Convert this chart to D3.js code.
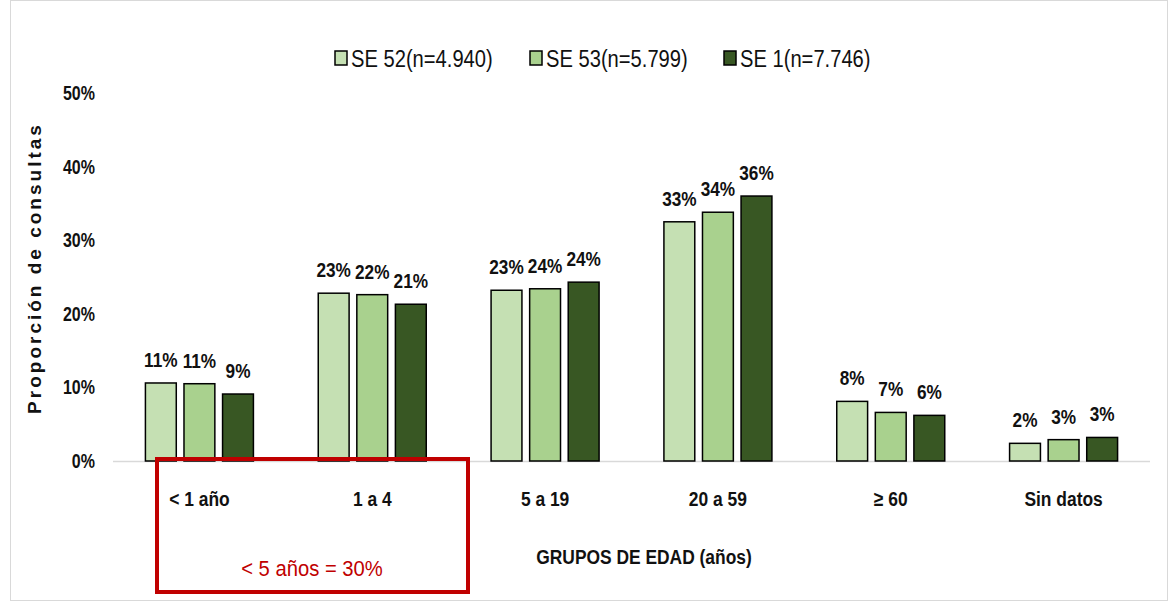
<!DOCTYPE html>
<html>
<head>
<meta charset="utf-8">
<script src="https://cdn.jsdelivr.net/npm/d3@7"></script>
<style>
  body { margin: 0; background: #fff; }
  svg text { font-family: "Liberation Sans", Arial, sans-serif; }
</style>
</head>
<body>
<div id="chart"></div>
<script>
// Data
var groups = ["< 1 año", "1 a 4", "5 a 19", "20 a 59", "\u2265 60", "Sin datos"];
var seriesNames = ["SE 52(n=4.940)", "SE 53(n=5.799)", "SE 1(n=7.746)"];
var se52 = [10.6, 22.8, 23.2, 32.5, 8.1, 2.4];
var se53 = [10.5, 22.6, 23.4, 33.8, 6.6, 2.9];
var se1  = [9.1, 21.3, 24.3, 36.0, 6.2, 3.2];
var valueLabels = [
  ["11%", "23%", "23%", "33%", "8%", "2%"],
  ["11%", "22%", "24%", "34%", "7%", "3%"],
  ["9%", "21%", "24%", "36%", "6%", "3%"]
];
var yTicks = [0, 10, 20, 30, 40, 50];
var colors = ["#c5e0b3", "#a9d18e", "#385723"];

var W = 1171, H = 613;
var svg = d3.select("#chart").append("svg")
  .attr("width", W).attr("height", H);

// no narrow font installed, so squeeze text horizontally
function narrow(sel, x, y, s) {
  return sel.attr("transform", "translate(" + x + "," + y + ") scale(" + s + ",1)");
}

// outer frame
svg.append("rect")
  .attr("x", 10.5).attr("y", 0.5)
  .attr("width", 1157).attr("height", 600)
  .attr("fill", "none").attr("stroke", "#d9d9d9");

var x0 = d3.scaleBand().domain(groups).range([113, 1150]);
var x1 = d3.scaleBand().domain([0, 1, 2]).range([0, 108]).paddingInner(0.2);
var y  = d3.scaleLinear().domain([0, 50]).range([461, 93]);

var series = [se52, se53, se1];

// y tick labels
yTicks.forEach(function(t) {
  narrow(svg.append("text"), 95, y(t) + 7, 0.8)
    .attr("text-anchor", "end")
    .attr("font-size", 20).attr("font-weight", "bold")
    .attr("fill", "#111")
    .text(t + "%");
});

// y title
svg.append("text")
  .attr("transform", "translate(41,268) rotate(-90)")
  .attr("text-anchor", "middle")
  .attr("font-size", 19).attr("font-weight", "bold")
  .attr("letter-spacing", 3)
  .attr("fill", "#111")
  .text("Proporción  de consultas");

// baseline
svg.append("line")
  .attr("x1", 113).attr("x2", 1150)
  .attr("y1", y(0) + 0.5).attr("y2", y(0) + 0.5)
  .attr("stroke", "#d9d9d9").attr("stroke-width", 1.5);

// bars
series.forEach(function(vals, s) {
  var g = svg.append("g");
  groups.forEach(function(grp, i) {
    var bx = x0(grp) + (x0.bandwidth() - 108) / 2 + x1(s);
    g.append("rect")
      .attr("x", bx).attr("y", y(vals[i]))
      .attr("width", x1.bandwidth()).attr("height", y(0) - y(vals[i]))
      .attr("fill", colors[s])
      .attr("stroke", "#000").attr("stroke-width", 1.5);
    narrow(g.append("text"), bx + x1.bandwidth() / 2, y(vals[i]) - 16, 0.82)
      .attr("text-anchor", "middle")
      .attr("font-size", 21).attr("font-weight", "bold")
      .attr("fill", "#111")
      .text(valueLabels[s][i]);
  });
});

// x labels
groups.forEach(function(d) {
  narrow(svg.append("text"), x0(d) + x0.bandwidth() / 2, 506, 0.83)
    .attr("text-anchor", "middle")
    .attr("font-size", 21).attr("font-weight", "bold")
    .attr("fill", "#111")
    .text(d);
});

// x title
narrow(svg.append("text"), 644, 564, 0.87)
  .attr("text-anchor", "middle")
  .attr("font-size", 20).attr("font-weight", "bold")
  .attr("fill", "#111")
  .text("GRUPOS DE EDAD (años)");

// legend
var legX = [335, 530, 724];
seriesNames.forEach(function(name, i) {
  svg.append("rect")
    .attr("x", legX[i]).attr("y", 51)
    .attr("width", 12).attr("height", 14)
    .attr("fill", colors[i]).attr("stroke", "#000").attr("stroke-width", 1.5);
  narrow(svg.append("text"), legX[i] + 16, 67, 0.84)
    .attr("font-size", 24)
    .attr("fill", "#111")
    .text(name);
});

// highlight box
svg.append("rect")
  .attr("x", 157).attr("y", 459)
  .attr("width", 311).attr("height", 133)
  .attr("fill", "none").attr("stroke", "#c00000").attr("stroke-width", 4);
narrow(svg.append("text"), 312, 576, 0.92)
  .attr("text-anchor", "middle")
  .attr("font-size", 22)
  .attr("fill", "#c00000")
  .text("< 5 años = 30%");
</script>
</body>
</html>
